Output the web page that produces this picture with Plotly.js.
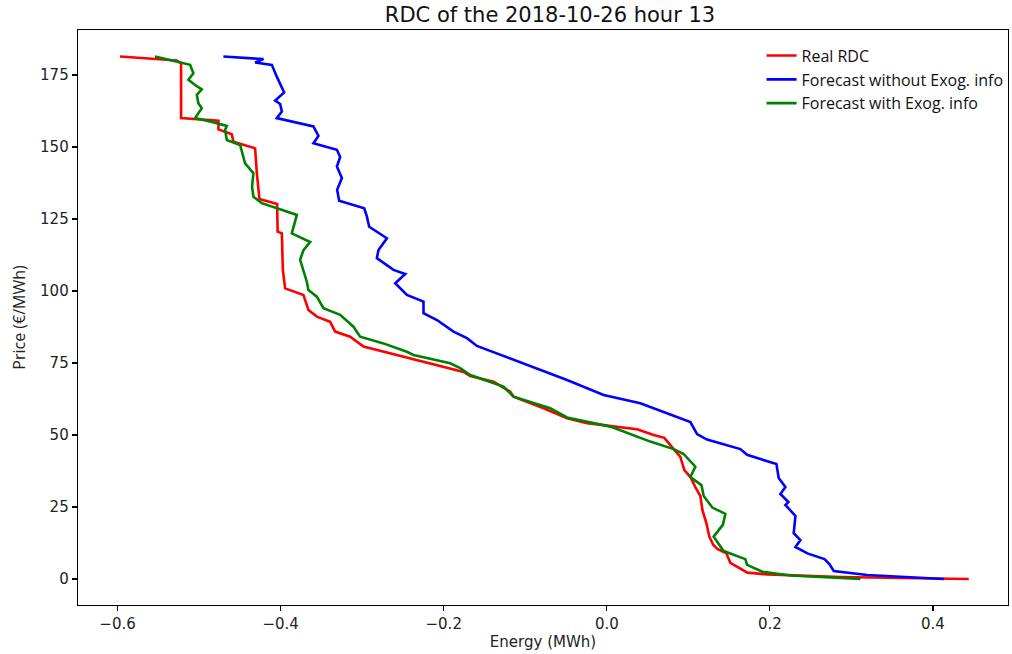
<!DOCTYPE html>
<html>
<head>
<meta charset="utf-8">
<script src="https://cdn.plot.ly/plotly-3.0.1.min.js"></script>
<style>html,body{margin:0;padding:0;background:#fff;}#chart{width:1012px;height:654px;}</style>
</head>
<body>
<div id="chart"></div>
<script>
const seriesNames = ["Real RDC", "Forecast without Exog. info", "Forecast with Exog. info"];
const seriesColors = ["#ff0000", "#0000ff", "#008000"];

const realEnergy = [-0.597,-0.5274,-0.5221,-0.5221,-0.4763,-0.4763,-0.4599,-0.4579,-0.4313,-0.4292,-0.4260,-0.4043,-0.4037,-0.3985,-0.3973,-0.3945,-0.3720,-0.3659,-0.3556,-0.3393,-0.3331,-0.3147,-0.2984,-0.2411,-0.2083,-0.1757,-0.1675,-0.1389,-0.1184,-0.1144,-0.0775,-0.0488,-0.0243,0.0083,0.0371,0.0574,0.0706,0.0820,0.0902,0.0951,0.1025,0.1086,0.1147,0.1172,0.1221,0.1258,0.1307,0.1356,0.1466,0.1515,0.1679,0.1724,0.1966,0.2334,0.2865,0.3601,0.4439];
const realPrice = [181.4,180.0,179.1,160.0,159.1,156.1,154.4,151.8,149.5,140.9,131.9,130.2,120.6,120.0,107.3,100.9,98.6,93.4,91.1,89.3,85.9,84.1,80.7,76.6,74.3,71.9,70.5,68.5,65.0,63.3,59.3,55.8,54.1,52.9,52.0,50.0,49.0,45.1,42.4,37.8,35.4,31.9,28.8,24.0,19.4,14.6,11.8,10.4,8.9,5.6,3.1,2.2,1.6,1.2,0.7,0.35,0.0];

const noExogEnergy = [-0.4702,-0.4211,-0.4313,-0.4108,-0.4047,-0.3985,-0.3957,-0.4067,-0.4006,-0.3985,-0.4047,-0.3598,-0.3536,-0.3598,-0.3310,-0.3270,-0.3310,-0.3249,-0.3307,-0.3282,-0.2975,-0.2942,-0.2914,-0.2697,-0.2800,-0.2820,-0.2616,-0.2472,-0.2595,-0.2452,-0.2248,-0.2248,-0.2083,-0.1880,-0.1715,-0.1593,-0.1184,-0.0693,-0.0488,-0.0039,0.0411,0.1025,0.1107,0.1229,0.1638,0.1720,0.2080,0.2108,0.2190,0.2129,0.2227,0.2190,0.2313,0.2292,0.2374,0.2313,0.2460,0.2669,0.2730,0.2783,0.3193,0.4133];
const noExogPrice = [181.4,180.5,179.3,178.5,174.4,170.4,168.9,166.1,164.9,162.3,160.0,157.1,153.8,151.3,149.0,146.5,143.2,139.2,135.1,131.3,128.7,125.8,122.3,118.3,114.2,111.4,107.3,105.9,102.7,98.6,96.3,92.3,89.9,85.9,83.6,80.9,76.6,71.5,69.1,63.9,61.0,54.5,50.3,48.4,45.1,43.1,39.9,35.1,31.9,29.5,26.7,25.7,21.9,15.9,13.5,11.1,8.9,6.9,5.2,2.8,1.4,0.0];

const exogEnergy = [-0.5540,-0.5274,-0.5110,-0.5070,-0.5131,-0.5049,-0.4967,-0.5028,-0.5009,-0.4967,-0.5028,-0.5049,-0.4865,-0.4660,-0.4681,-0.4660,-0.4497,-0.4436,-0.4334,-0.4350,-0.4334,-0.4231,-0.3801,-0.3843,-0.3863,-0.3638,-0.3720,-0.3761,-0.3720,-0.3679,-0.3659,-0.3556,-0.3475,-0.3270,-0.3107,-0.3025,-0.2739,-0.2452,-0.2371,-0.1920,-0.1798,-0.1675,-0.1266,-0.1184,-0.1144,-0.0693,-0.0488,0.0043,0.0329,0.0534,0.0820,0.0942,0.1086,0.1025,0.1160,0.1188,0.1294,0.1454,0.1423,0.1310,0.1433,0.1699,0.1720,0.1908,0.2252,0.2865,0.3110];
const exogPrice = [181.4,179.6,178.5,175.6,173.3,171.5,170.0,168.1,165.2,163.4,161.1,160.0,158.8,157.3,155.9,152.4,150.7,144.3,140.9,136.2,132.7,130.5,126.4,122.3,120.0,117.0,114.2,110.8,107.3,103.2,100.3,98.0,94.0,91.7,87.6,84.1,81.8,78.9,77.8,74.9,73.2,70.8,66.8,64.5,63.3,59.3,56.1,52.9,50.0,47.7,45.1,43.4,39.0,35.4,32.6,28.8,24.8,22.6,18.8,14.7,9.7,6.9,4.9,2.5,1.2,0.24,0.0];

const xTicks = [-0.6,-0.4,-0.2,0.0,0.2,0.4];
const yTicks = [0,25,50,75,100,125,150,175];

const xs = [realEnergy, noExogEnergy, exogEnergy];
const ys = [realPrice, noExogPrice, exogPrice];

const traces = seriesNames.map((n,i)=>({
  x: xs[i], y: ys[i], name: n, type: 'scatter', mode: 'lines',
  line: {color: seriesColors[i], width: 2.6}
}));

const tickFont = {family: 'DejaVu Sans, Verdana, sans-serif', size: 15, color: '#222'};
const layout = {
  width: 1012, height: 654,
  margin: {l: 78, r: 4, t: 30, b: 49, autoexpand: false},
  paper_bgcolor: '#fff', plot_bgcolor: '#fff',
  title: {text: 'RDC of the 2018-10-26 hour 13', x: 0.5435, xanchor: 'center', y: 0.978, yanchor: 'middle',
          font: {family: 'DejaVu Sans, Verdana, sans-serif', size: 21, color: '#111'}},
  xaxis: {range: [-0.6485, 0.492], tickvals: xTicks, tickformat: '.1f', ticks: 'outside', ticklen: 5, tickwidth: 1.2,
          tickcolor: '#000', showline: true, linecolor: '#000', linewidth: 1.3, mirror: true, showgrid: false, zeroline: false,
          tickfont: tickFont,
          title: {text: 'Energy (MWh)', standoff: 4, font: {family: 'DejaVu Sans, sans-serif', size: 15, color: '#222'}}},
  yaxis: {range: [-9.03, 190.6], tickvals: yTicks, ticks: 'outside', ticklen: 5, tickwidth: 1.2,
          tickcolor: '#000', showline: true, linecolor: '#000', linewidth: 1.3, mirror: true, showgrid: false, zeroline: false,
          tickfont: tickFont,
          title: {text: 'Price (€/MWh)', standoff: 10, font: {family: 'Open Sans, Lato, sans-serif', size: 16, color: '#222'}}},
  legend: {x: 0.735, y: 0.985, xanchor: 'left', yanchor: 'top', bgcolor: 'rgba(255,255,255,0)', borderwidth: 0,
           font: {family: 'Open Sans, Lato, sans-serif', size: 16, color: '#111'}, tracegroupgap: 0},
  showlegend: true
};
Plotly.newPlot('chart', traces, layout, {displayModeBar: false, staticPlot: true});
</script>
</body>
</html>
